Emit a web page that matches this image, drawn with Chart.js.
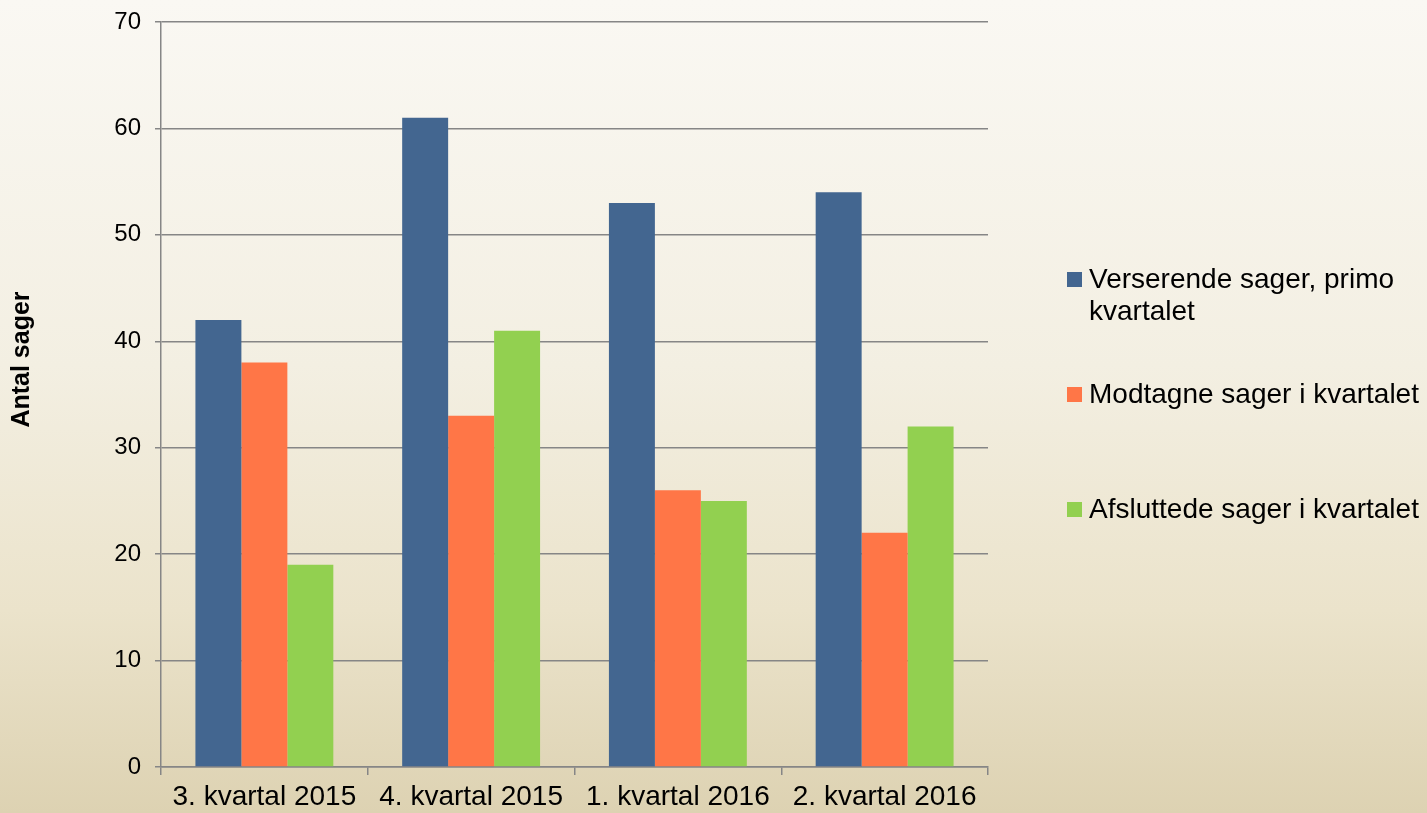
<!DOCTYPE html>
<html>
<head>
<meta charset="utf-8">
<script src="https://cdn.jsdelivr.net/npm/chart.js@4.4.0/dist/chart.umd.min.js"></script>
<style>
  html, body { margin: 0; padding: 0; }
  body {
    width: 1427px; height: 813px; overflow: hidden; position: relative;
    background: linear-gradient(to bottom, #faf8f3 0%, #f3efe2 45%, #ebe3cb 75%, #ddd2b2 100%);
    font-family: "Liberation Sans", Arial, sans-serif;
  }
  #wrap { position: absolute; left: 0; top: 0; width: 1427px; height: 813px; }
  #legend { position: absolute; left: 1067px; top: 0; }
  .item { position: absolute; left: 0; width: 360px; }
  .box { position: absolute; left: 0; width: 15px; height: 15px; }
  .txt { position: absolute; left: 22px; font-size: 28px; line-height: 32px; color: #000; white-space: nowrap; }
</style>
</head>
<body>
<div id="wrap"><canvas id="myChart"></canvas></div>
<div id="legend"></div>
<script>
const categories = ['3. kvartal 2015', '4. kvartal 2015', '1. kvartal 2016', '2. kvartal 2016'];
const seriesNames = [['Verserende sager, primo', 'kvartalet'], ['Modtagne sager i kvartalet'], ['Afsluttede sager i kvartalet']];
const verserende = [42, 61, 53, 54];
const modtagne = [38, 33, 26, 22];
const afsluttede = [19, 41, 25, 32];
const colors = ['#436690', '#ff7647', '#92d050'];
const yTicks = [0, 10, 20, 30, 40, 50, 60, 70];
const yTitle = 'Antal sager';

const gridColor = '#868686';

// legend drawn as plain html on the right
const legendTops = [272, 387, 502];
const legendEl = document.getElementById('legend');
seriesNames.forEach((name, i) => {
  const item = document.createElement('div');
  item.className = 'item';
  item.style.top = legendTops[i] + 'px';
  item.innerHTML = '<div class="box" style="background:' + colors[i] + '"></div>' +
    '<div class="txt" style="top:-9px">' + name.join('<br>') + '</div>';
  legendEl.appendChild(item);
});

// y axis title sits a bit above the middle in the original, so draw it by hand
const yTitlePlugin = {
  id: 'yTitle',
  afterDraw(chart) {
    const c = chart.ctx;
    const area = chart.chartArea;
    c.save();
    c.translate(22, (area.top + area.bottom) / 2 - 35);
    c.rotate(-Math.PI / 2);
    c.font = 'bold 25px "Liberation Sans"';
    c.fillStyle = '#000';
    c.textAlign = 'center';
    c.textBaseline = 'middle';
    c.fillText(yTitle, 0, 0);
    c.restore();
  }
};

const canvas = document.getElementById('myChart');
canvas.width = 1427;
canvas.height = 813;
const ctx = canvas.getContext('2d');

const myChart = new Chart(ctx, {
  type: 'bar',
  data: {
    labels: categories,
    datasets: [
      { label: seriesNames[0].join(' '), data: verserende, backgroundColor: colors[0] },
      { label: seriesNames[1].join(' '), data: modtagne, backgroundColor: colors[1] },
      { label: seriesNames[2].join(' '), data: afsluttede, backgroundColor: colors[2] }
    ]
  },
  plugins: [yTitlePlugin],
  options: {
    responsive: false,
    animation: false,
    devicePixelRatio: 1,
    barPercentage: 1,
    categoryPercentage: 0.667,
    layout: { padding: { top: 0, right: 439, bottom: 0, left: 0 } },
    plugins: {
      legend: { display: false },
      tooltip: { enabled: false }
    },
    scales: {
      x: {
        offset: true,
        afterFit: (scale) => { scale.height = 46; },
        grid: {
          offset: true,
          drawOnChartArea: false,
          drawTicks: true,
          tickLength: 8,
          color: gridColor,
          lineWidth: 1.5
        },
        border: { display: true, color: gridColor, width: 1.5 },
        ticks: {
          color: '#000',
          padding: 5,
          maxRotation: 0,
          font: { family: 'Liberation Sans', size: 28 }
        }
      },
      y: {
        min: 0,
        max: 70,
        afterFit: (scale) => { scale.width = 161; scale.paddingTop = 22; },
        afterBuildTicks: (scale) => { scale.ticks = yTicks.map(v => ({ value: v })); },
        grid: {
          color: gridColor,
          lineWidth: 1.5,
          tickLength: 6
        },
        border: { display: true, color: gridColor, width: 1.5 },
        ticks: {
          color: '#000',
          padding: 14,
          font: { family: 'Liberation Sans', size: 24 }
        }
      }
    }
  }
});
</script>
</body>
</html>
